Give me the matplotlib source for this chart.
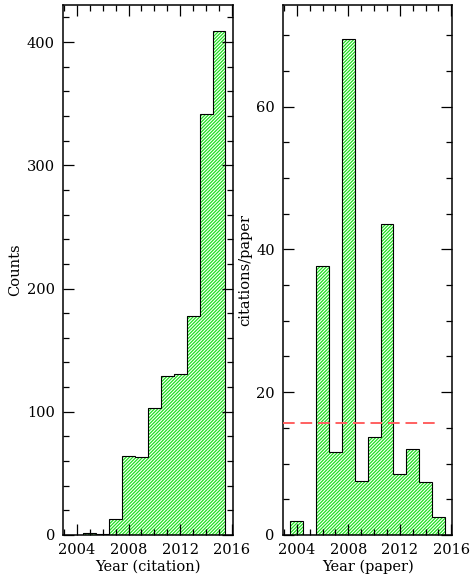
import matplotlib
matplotlib.use("Agg")
import matplotlib.pyplot as plt
import numpy as np
from matplotlib.ticker import MultipleLocator

# Data
cit_years = [2005, 2006, 2007, 2008, 2009, 2010, 2011, 2012, 2013, 2014, 2015]
cit_counts = [2, 1, 13, 64, 63, 103, 129, 131, 178, 342, 409]

pap_years = [2004, 2005, 2006, 2007, 2008, 2009, 2010, 2011, 2012, 2013, 2014, 2015]
cit_per_paper = [2, 0, 37.7, 11.6, 69.5, 7.5, 13.7, 43.5, 8.5, 12.0, 7.4, 2.5]
mean_cpp = 15.7

plt.rcParams['font.family'] = ['DejaVu Serif']
plt.rcParams['hatch.linewidth'] = 0.9

fig = plt.figure(figsize=(4.72, 5.81), dpi=100)
ax1 = fig.add_axes([0.134, 0.0792, 0.3595, 0.912])
ax2 = fig.add_axes([0.600, 0.0792, 0.3585, 0.912])

green = '#1fe01f'

def draw_hist(ax, years, vals):
    years = np.asarray(years, dtype=float)
    vals = np.asarray(vals, dtype=float)
    ax.bar(years, vals, width=1.0, facecolor='white', edgecolor=green,
           hatch='//////////', linewidth=0, zorder=1)
    edges = np.append(years - 0.5, years[-1] + 0.5)
    ax.stairs(vals, edges, color='black', linewidth=0.8, zorder=2)

draw_hist(ax1, cit_years, cit_counts)
draw_hist(ax2, pap_years, cit_per_paper)

ax2.hlines(mean_cpp, 2002.95, 2014.75, colors='#ff6060', linestyles=(0, (6, 3)),
           linewidth=1.4, zorder=3)

for ax in (ax1, ax2):
    ax.set_xlim(2002.95, 2016.08)
    ax.xaxis.set_major_locator(MultipleLocator(4))
    ax.xaxis.set_minor_locator(MultipleLocator(1))
    ax.tick_params(which='both', direction='in', top=True, right=True,
                   labelsize=10.5, width=0.9)
    ax.tick_params(which='major', length=8, pad=6)
    ax.tick_params(which='minor', length=4)
    for s in ax.spines.values():
        s.set_linewidth(1.1)

ax1.set_ylim(0, 430)
ax1.yaxis.set_major_locator(MultipleLocator(100))
ax1.yaxis.set_minor_locator(MultipleLocator(20))
ax1.set_xlabel('Year (citation)', fontsize=10.5, labelpad=2)
ax1.set_ylabel('Counts', fontsize=10.5, labelpad=3)

ax2.set_ylim(0, 74.2)
ax2.yaxis.set_major_locator(MultipleLocator(20))
ax2.yaxis.set_minor_locator(MultipleLocator(5))
ax2.set_xlabel('Year (paper)', fontsize=10.5, labelpad=2)
ax2.set_ylabel('citations/paper', fontsize=10.5, labelpad=3)

fig.savefig('out.png', dpi=100)
